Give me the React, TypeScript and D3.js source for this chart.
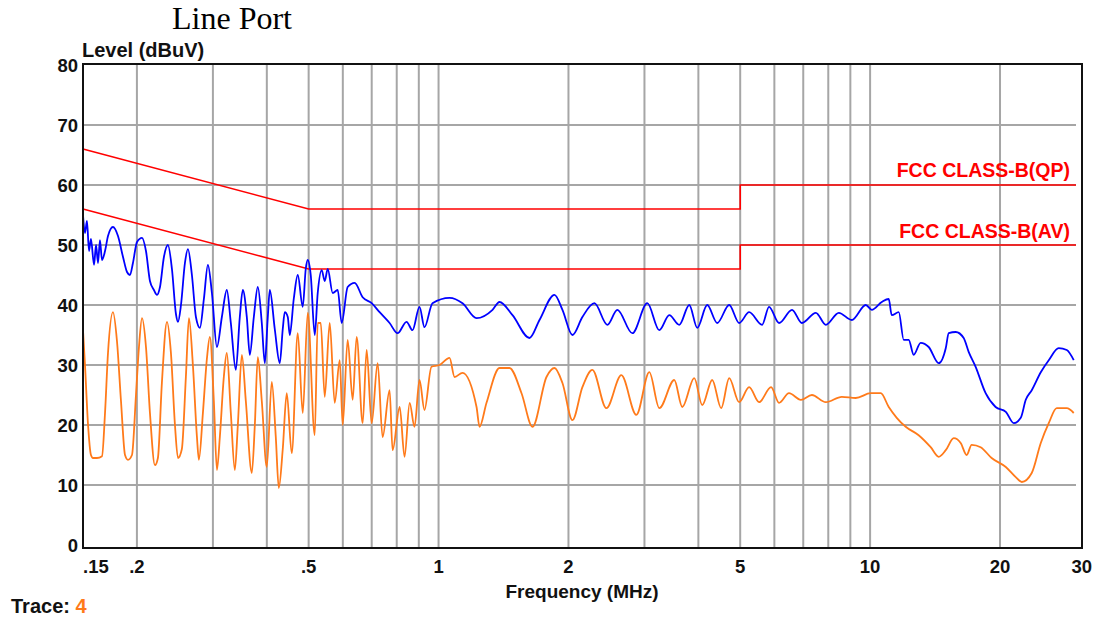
import * as d3 from "d3";

// blue trace (peak), MHz / dBuV
const blueFreq = [
  0.15, 0.1516, 0.1532, 0.1549, 0.1565, 0.1591, 0.1608, 0.1625, 0.1642, 0.166,
  0.1687, 0.1714, 0.176, 0.1808, 0.1857, 0.1897, 0.1927, 0.1958, 0.2001, 0.2055,
  0.2099, 0.2144, 0.219, 0.2226, 0.2262, 0.231, 0.236, 0.2411, 0.2463, 0.249,
  0.253, 0.2584, 0.2626, 0.2682, 0.274, 0.2799, 0.2859, 0.2921, 0.2984, 0.3065,
  0.3147, 0.3231, 0.3301, 0.339, 0.3463, 0.3519, 0.3595, 0.3653, 0.3732, 0.3812,
  0.3894, 0.3957, 0.4021, 0.4064, 0.4173, 0.4286, 0.4355, 0.4402, 0.4473, 0.4521,
  0.4618, 0.4718, 0.4845, 0.4923, 0.4976, 0.5056, 0.5165, 0.5248, 0.5361, 0.5448,
  0.5536, 0.5685, 0.5838, 0.5964, 0.6157, 0.6391, 0.667, 0.6998, 0.7302, 0.7701,
  0.8036, 0.843, 0.8703, 0.9033, 0.9276, 0.9681, 1.0604, 1.1365, 1.2247, 1.3338,
  1.3842, 1.4838, 1.6246, 1.7136, 1.8561, 1.9369, 2.0431, 2.1543, 2.2967, 2.4613,
  2.596, 2.8122, 3.0461, 3.2473, 3.425, 3.6126, 3.8102, 3.9759, 4.1933, 4.423,
  4.7149, 4.9726, 5.2444, 5.62, 5.8326, 6.1514, 6.5926, 6.949, 7.4871, 7.8973,
  8.462, 9.0693, 9.7715, 10.089, 10.641, 11.046, 11.224, 11.651, 11.965, 12.286,
  12.618, 13.096, 13.67, 14.422, 14.972, 15.213, 15.791, 16.476, 16.92, 17.562,
  18.523, 19.536, 20.627, 21.524, 22.343, 22.946, 23.69, 24.86, 25.94, 27.36,
  28.56, 29.64,
];
const blueLevel = [
  55, 52, 54, 49, 51, 46.7, 50, 47, 50.8, 47.5,
  49, 51.5, 53, 51.5, 48, 45.5, 45, 47, 50.5, 51.2,
  49, 44, 42.5, 41.7, 43, 48, 50, 46, 38.5, 37.2,
  40, 47, 49.3, 45, 38, 36.2, 41, 46.7, 42, 33,
  38, 42.5, 37, 29.2, 38, 42.5, 38, 31.7, 38, 43,
  37, 30.3, 38, 42.5, 36, 30.3, 36, 38.8, 38, 35,
  41, 45, 39.7, 46, 47.5, 45, 35, 42, 45.8, 44,
  46, 42, 42.5, 37, 43, 43.7, 41.3, 40.3, 38.8, 37,
  35.3, 37.2, 35.8, 39.7, 36.3, 40.3, 41.2, 40.3, 37.8, 39.2,
  40.5, 38.3, 34.5, 37.5, 41.7, 39.2, 35, 38, 40.3, 36.7,
  39.2, 35.3, 40.3, 35.8, 38.3, 36.7, 40, 36.2, 40, 37,
  40, 37, 38.8, 36.7, 39.7, 37, 39.2, 37, 38.7, 36.7,
  38.7, 37.5, 40, 39.2, 40.5, 41, 38.3, 38.8, 34.2, 34.2,
  31.7, 33.7, 33, 30.3, 32.8, 35.3, 35.5, 34.5, 32.2, 29.7,
  25.3, 23, 22.2, 20.3, 21.2, 24.2, 25.8, 28.8, 30.8, 32.8,
  32.5, 30.8,
];

// orange trace (average)
const orangeFreq = [
  0.15, 0.1516, 0.1541, 0.1565, 0.1582, 0.1616, 0.166, 0.1687, 0.1714, 0.176,
  0.1798, 0.1837, 0.1877, 0.1907, 0.1948, 0.199, 0.2022, 0.2055, 0.2099, 0.2144,
  0.2202, 0.2237, 0.2285, 0.2348, 0.2398, 0.245, 0.249, 0.2542, 0.2597, 0.264,
  0.2696, 0.2755, 0.2784, 0.2844, 0.2905, 0.2952, 0.3015, 0.3065, 0.3113, 0.318,
  0.3231, 0.3301, 0.3372, 0.3427, 0.3501, 0.3576, 0.3692, 0.3752, 0.3812, 0.3894,
  0.3999, 0.4107, 0.4196, 0.4264, 0.4355, 0.4449, 0.4569, 0.4718, 0.4845, 0.4976,
  0.5165, 0.5248, 0.5333, 0.5448, 0.5595, 0.5746, 0.5902, 0.5996, 0.6157, 0.6324,
  0.646, 0.667, 0.6814, 0.6998, 0.7225, 0.7419, 0.7701, 0.7825, 0.8126, 0.8341,
  0.8571, 0.8796, 0.9033, 0.9276, 0.9629, 1.005, 1.0604, 1.0891, 1.1365, 1.2247,
  1.2443, 1.2916, 1.3842, 1.4602, 1.5569, 1.6509, 1.7786, 1.8561, 1.9369, 2.0431,
  2.1543, 2.2723, 2.4482, 2.652, 2.8727, 3.0788, 3.2473, 3.5176, 3.6707, 3.9132,
  4.083, 4.3064, 4.5182, 4.7149, 4.9726, 5.2444, 5.531, 5.8951, 6.1514, 6.4883,
  6.912, 7.3297, 7.8973, 8.5983, 9.2641, 10.035, 10.584, 11.046, 11.527, 12.093,
  12.958, 13.817, 14.422, 14.972, 15.624, 16.215, 16.741, 17.193, 18.036, 19.125,
  20.627, 21.755, 22.462, 23.69, 24.86, 25.94, 27.07, 28.56, 29.64,
];
const orangeLevel = [
  35.8, 30, 20, 15, 14.5, 14.5, 14.8, 22, 32, 38.8,
  34, 24, 15, 14.2, 15, 25, 33, 37.8, 33, 22,
  13.3, 14.5, 27, 37.2, 32, 20, 14.5, 16, 28, 37.8,
  30, 18, 14.2, 22, 31, 34.7, 24, 12.5, 18, 28,
  32, 22, 12.5, 20, 31.7, 24, 12, 20, 31.3, 24,
  13, 27.2, 18, 9.5, 16, 25.3, 15.3, 35.3, 22, 38.7,
  18.3, 37, 37, 24.7, 37, 23.7, 30.8, 20, 34.2, 24.2,
  34.7, 20.3, 32.5, 20.3, 30.3, 18, 25.8, 15.8, 23, 14.7,
  23.7, 19.7, 27.5, 22.5, 29.7, 30, 31.2, 28, 28.7, 23,
  19.7, 23.7, 29.5, 29.5, 25.3, 19.7, 28, 29.5, 27, 20.8,
  26.3, 29.2, 22.8, 28.3, 21.7, 28.8, 22.8, 27.5, 23, 27.8,
  23.3, 27.5, 22.8, 27.8, 23.8, 26.3, 23.8, 26.3, 23.7, 25.3,
  24.2, 25, 23.8, 24.7, 24.5, 25.3, 25.3, 23, 21.2, 19.7,
  18.3, 16.3, 14.7, 15.8, 17.8, 17, 15, 16.7, 16.3, 14.5,
  13, 11.3, 10.5, 12, 17, 20.3, 22.8, 22.8, 22,
];

// FCC class B limits
const limitFreq = [0.15, 0.5, 5, 5, 30];
const qpLimit = [66, 56, 56, 60, 60];
const avLimit = [56, 46, 46, 50, 50];

const xTickValues = [0.15, 0.2, 0.5, 1, 2, 5, 10, 20, 30];
const xTickLabels = [".15", ".2", ".5", "1", "2", "5", "10", "20", "30"];
const xGrid = [0.2, 0.3, 0.4, 0.5, 0.6, 0.7, 0.8, 0.9, 1, 2, 3, 4, 5, 6, 7, 8, 9, 10, 20];
const yTicks = [0, 10, 20, 30, 40, 50, 60, 70, 80];

const font = "'Liberation Sans', Arial, sans-serif";

export default function App() {
  const x = d3.scaleLog().domain([0.15, 30]).range([83, 1076]);
  const y = d3.scaleLinear().domain([0, 80]).range([545, 65]);

  const line = d3
    .line<[number, number]>()
    .x((d) => x(d[0]))
    .y((d) => y(d[1]));
  // traces get rounded peaks like the analyser plot
  const trace = d3
    .line<[number, number]>()
    .x((d) => x(d[0]))
    .y((d) => y(d[1]))
    .curve(d3.curveMonotoneX);

  const pts = (f: number[], v: number[]) => f.map((fr, i) => [fr, v[i]] as [number, number]);

  return (
    <svg
      width={1104}
      height={621}
      style={{ position: "absolute", left: 0, top: 0, background: "#fff" }}
    >
      <text x={172} y={29} fontFamily="'Liberation Serif', 'Times New Roman', serif" fontSize={32}>
        Line Port
      </text>

      {/* grid */}
      <g stroke="#a6a6a6" strokeWidth={2}>
        {xGrid.map((f) => (
          <line key={"x" + f} x1={x(f)} x2={x(f)} y1={65} y2={547} />
        ))}
        {yTicks
          .filter((v) => v > 0 && v < 80)
          .map((v) => (
            <line key={"y" + v} x1={83} x2={1076} y1={y(v)} y2={y(v)} />
          ))}
      </g>

      {/* limit lines */}
      <path d={line(pts(limitFreq, qpLimit)) || ""} fill="none" stroke="#ff0000" strokeWidth={1.6} />
      <path d={line(pts(limitFreq, avLimit)) || ""} fill="none" stroke="#ff0000" strokeWidth={1.6} />

      {/* traces */}
      <path d={trace(pts(orangeFreq, orangeLevel)) || ""} fill="none" stroke="#ff7a1a" strokeWidth={1.8} />
      <path d={trace(pts(blueFreq, blueLevel)) || ""} fill="none" stroke="#0000ff" strokeWidth={1.8} />

      {/* frame */}
      <rect x={83} y={64} width={999} height={484} fill="none" stroke="#111" strokeWidth={2} />

      <g fontFamily={font} fontWeight="bold" fill="#ff0000" fontSize={19.5} textAnchor="end">
        <text x={1070} y={177}>FCC CLASS-B(QP)</text>
        <text x={1070} y={238}>FCC CLASS-B(AV)</text>
      </g>

      <g fontFamily={font} fontWeight="bold" fill="#111">
        <text x={82} y={57} fontSize={20}>Level (dBuV)</text>
        {yTicks.map((v) => (
          <text key={"yl" + v} x={78} y={y(v) + 7} fontSize={18.5} textAnchor="end">
            {v}
          </text>
        ))}
        {xTickValues.map((f, i) => (
          <text
            key={"xl" + f}
            x={i === 0 ? 83 : i === xTickValues.length - 1 ? 1092 : x(f)}
            y={573}
            fontSize={18.5}
            textAnchor={i === 0 ? "start" : i === xTickValues.length - 1 ? "end" : "middle"}
          >
            {xTickLabels[i]}
          </text>
        ))}
        <text x={582} y={598} fontSize={19} textAnchor="middle">
          Frequency (MHz)
        </text>
        <text x={11} y={613} fontSize={20}>
          Trace: <tspan fill="#ff7a1a">4</tspan>
        </text>
      </g>
    </svg>
  );
}
